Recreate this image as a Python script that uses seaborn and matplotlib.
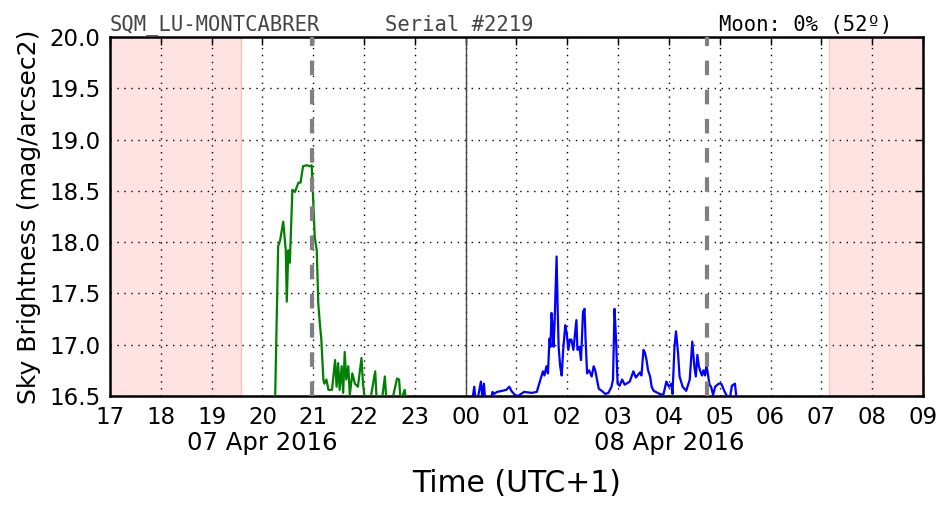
import pandas as pd
import numpy as np
import matplotlib
matplotlib.use("Agg")
import matplotlib.pyplot as plt
import matplotlib.dates as mdates
import matplotlib.transforms as mtransforms
import seaborn as sns

# hours counted from 07 Apr 2016 00:00 (UTC+1)
green_t = [20.25, 20.31, 20.35, 20.41, 20.46, 20.48, 20.51, 20.54, 20.59, 20.64, 20.71, 20.75,
           20.80, 20.87, 20.94, 20.97, 21.00, 21.03, 21.07, 21.10, 21.13, 21.16, 21.18, 21.20,
           21.22, 21.26, 21.30, 21.33, 21.37, 21.43, 21.46, 21.49, 21.52, 21.56, 21.59, 21.62,
           21.65, 21.69, 21.72, 21.77, 21.82, 21.88, 21.95, 21.98, 22.02, 22.12, 22.22, 22.25,
           22.35, 22.41, 22.44, 22.55, 22.65, 22.69, 22.72, 22.80, 22.83]
green_v = [16.45, 17.96, 18.02, 18.20, 17.92, 17.42, 17.92, 17.80, 18.51, 18.49, 18.58, 18.58,
           18.74, 18.75, 18.74, 18.75, 18.41, 18.05, 17.92, 17.40, 17.21, 17.05, 16.85, 16.66,
           16.62, 16.66, 16.56, 16.56, 16.56, 16.85, 16.59, 16.82, 16.56, 16.79, 16.53, 16.93,
           16.66, 16.79, 16.51, 16.72, 16.62, 16.59, 16.87, 16.62, 16.45, 16.45, 16.74, 16.45,
           16.45, 16.69, 16.45, 16.45, 16.67, 16.66, 16.45, 16.56, 16.45]

blue_t = [24.14, 24.17, 24.19, 24.24, 24.27, 24.30, 24.33, 24.36, 24.38, 24.50, 24.53, 24.56,
          24.62, 24.72, 24.80, 24.86, 24.90, 24.97, 25.03, 25.15, 25.30, 25.40, 25.46, 25.52,
          25.55, 25.59, 25.62, 25.65, 25.67, 25.69, 25.71, 25.73, 25.75, 25.79, 25.81, 25.83,
          25.86, 25.89, 25.92, 25.96, 25.99, 26.02, 26.05, 26.08, 26.12, 26.18, 26.20, 26.24,
          26.27, 26.31, 26.34, 26.36, 26.39, 26.43, 26.48, 26.52, 26.55, 26.62, 26.68, 26.75,
          26.81, 26.87, 26.90, 26.93, 26.96, 26.99, 27.03, 27.08, 27.13, 27.23, 27.30, 27.35,
          27.43, 27.46, 27.50, 27.53, 27.56, 27.59, 27.63, 27.66, 27.70, 27.82, 27.89, 27.95,
          28.00, 28.05, 28.07, 28.09, 28.11, 28.14, 28.18, 28.21, 28.27, 28.34, 28.41, 28.46,
          28.50, 28.53, 28.56, 28.59, 28.62, 28.65, 28.68, 28.71, 28.74, 28.80, 28.83, 28.87,
          28.91, 28.98, 29.03, 29.09, 29.14, 29.20, 29.24, 29.30, 29.33]
blue_v = [16.49, 16.59, 16.48, 16.48, 16.56, 16.64, 16.48, 16.62, 16.48, 16.48, 16.54, 16.52,
          16.54, 16.55, 16.56, 16.59, 16.55, 16.51, 16.50, 16.54, 16.53, 16.54, 16.64, 16.74,
          16.70, 16.79, 16.72, 17.06, 16.98, 17.31, 17.18, 16.98, 17.21, 17.86, 17.37, 16.98,
          16.79, 16.70, 16.95, 17.19, 17.11, 16.95, 17.05, 17.05, 16.95, 17.24, 16.95, 16.98,
          16.85, 17.32, 17.35, 17.05, 16.72, 16.75, 16.69, 16.79, 16.75, 16.57, 16.55, 16.52,
          16.53, 16.59, 16.66, 17.35, 17.05, 16.62, 16.60, 16.66, 16.61, 16.64, 16.74, 16.68,
          16.73, 16.70, 16.95, 16.92, 16.85, 16.75, 16.69, 16.59, 16.55, 16.52, 16.51, 16.64,
          16.59, 16.62, 16.52, 16.74, 16.98, 17.13, 16.92, 16.69, 16.59, 16.55, 16.66, 17.03,
          16.79, 16.69, 16.90, 16.79, 16.74, 16.70, 16.75, 16.70, 16.80, 16.61, 16.59, 16.51,
          16.59, 16.62, 16.62, 16.55, 16.50, 16.48, 16.60, 16.62, 16.48]

twilight_end = 19.58
twilight_start = 31.15
moon_set = [20.98, 28.75]
date_labels = ["07 Apr 2016", "08 Apr 2016"]
date_pos = [20.0, 28.0]

base = pd.Timestamp("2016-04-07 00:00")
def to_time(h):
    return base + pd.to_timedelta(np.asarray(h), unit="h")

df_g = pd.DataFrame({"time": to_time(green_t), "mag": green_v})
df_b = pd.DataFrame({"time": to_time(blue_t), "mag": blue_v})

sns.set_style("white")
plt.rcParams["font.family"] = ["DejaVu Sans"]
for k in ["text.color", "axes.labelcolor", "xtick.color", "ytick.color"]:
    plt.rcParams[k] = "black"

fig = plt.figure(figsize=(9.52, 5.12), dpi=100)
ax = fig.add_axes([0.1155, 0.2266, 0.854, 0.701])

ax.axvspan(to_time(17), to_time(twilight_end), facecolor="#ffe3e3", edgecolor="#ffc0c0", lw=1, zorder=0)
ax.axvspan(to_time(twilight_start), to_time(33), facecolor="#ffe3e3", edgecolor="#ffc0c0", lw=1, zorder=0)

sns.lineplot(data=df_g, x="time", y="mag", color="green", lw=1.6, ax=ax, zorder=3)
sns.lineplot(data=df_b, x="time", y="mag", color="blue", lw=1.6, ax=ax, zorder=3)

for m in moon_set:
    ax.axvline(to_time(m), color="grey", lw=3, ls=(0, (3.5, 3.5)), zorder=4)
ax.axvline(to_time(24), color="#444444", lw=1, zorder=2)

ax.set_xlim(to_time(17), to_time(33))
ax.set_ylim(16.5, 20.0)
ax.xaxis.set_major_locator(mdates.HourLocator())
ax.xaxis.set_major_formatter(mdates.DateFormatter("%H"))
ax.set_yticks(np.arange(16.5, 20.01, 0.5))
ax.yaxis.set_major_formatter(matplotlib.ticker.FormatStrFormatter("%.1f"))
ax.grid(True, color="black", ls=(0, (1, 4)), lw=1)
ax.tick_params(direction="in", top=True, right=True, length=6, width=1, labelsize=16.5, pad=7)
for s in ax.spines.values():
    s.set_color("black")
    s.set_linewidth(1.8)

ax.set_xlabel("Time (UTC+1)", fontsize=21.5, labelpad=29)
ax.set_ylabel("Sky Brightness (mag/arcsec2)", fontsize=18, labelpad=6)

trans = mtransforms.blended_transform_factory(ax.transData, ax.transAxes)
for lbl, p in zip(date_labels, date_pos):
    ax.text(mdates.date2num(to_time(p)), -0.098, lbl, transform=trans, ha="center", va="top", fontsize=17.5)

ax.text(0.0, 1.005, "SQM_LU-MONTCABRER", transform=ax.transAxes, ha="left", va="bottom",
        family="DejaVu Sans Mono", fontsize=14.8, color="#444444")
ax.text(0.338, 1.005, "Serial #2219", transform=ax.transAxes, ha="left", va="bottom",
        family="DejaVu Sans Mono", fontsize=14.8, color="#444444")
ax.text(0.9625, 1.005, "Moon: 0% (52º)", transform=ax.transAxes, ha="right", va="bottom",
        family="DejaVu Sans Mono", fontsize=14.8, color="black")

fig.savefig("out.png", dpi=100)
